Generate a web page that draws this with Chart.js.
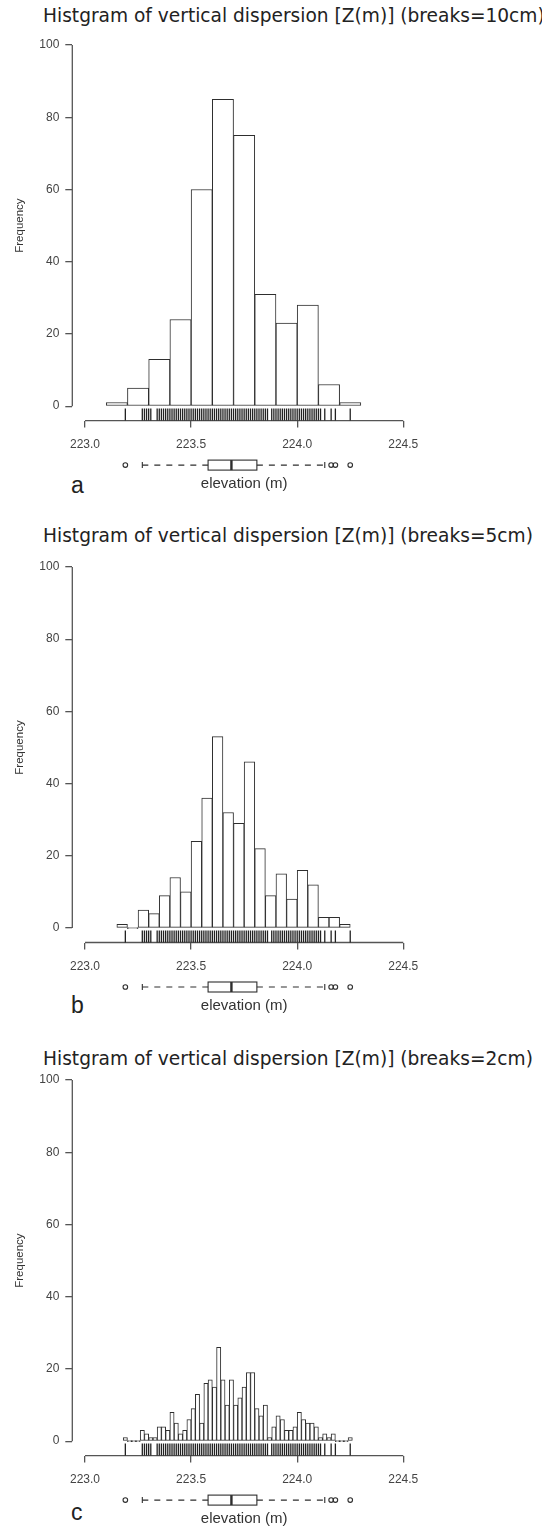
<!DOCTYPE html>
<html>
<head>
<meta charset="utf-8">
<script src="https://cdn.jsdelivr.net/npm/chart.js@4.4.1/dist/chart.umd.min.js"></script>
<style>
  body { margin: 0; background: #fff; width: 542px; height: 1526px; position: relative; overflow: hidden; }
  canvas { position: absolute; left: 0; }
  .title { position: absolute; left: 43px; font-family: "DejaVu Sans", sans-serif; font-size: 18.6px; color: #222; white-space: nowrap; }
  .tag { position: absolute; left: 71px; font-family: "Liberation Sans", Arial, sans-serif; font-size: 23px; color: #222; }
</style>
</head>
<body>
<div class="title" style="top:5px">Histgram of vertical dispersion [Z(m)] (breaks=10cm)</div>
<div class="title" style="top:525px">Histgram of vertical dispersion [Z(m)] (breaks=5cm)</div>
<div class="title" style="top:1048px">Histgram of vertical dispersion [Z(m)] (breaks=2cm)</div>
<div class="tag" style="top:472px">a</div>
<div class="tag" style="top:992px">b</div>
<div class="tag" style="top:1499px">c</div>
<canvas id="histA" width="542" height="510" style="top:0px"></canvas>
<canvas id="histB" width="542" height="510" style="top:510px"></canvas>
<canvas id="histC" width="542" height="506" style="top:1020px"></canvas>
<script>
const xTicks = [223.0, 223.5, 224.0, 224.5];
const yTicks = [0, 20, 40, 60, 80, 100];

// counts per bin, first break and bin width in metres
const startA = 223.10, widthA = 0.10;
const countsA = [1, 5, 13, 24, 60, 85, 75, 31, 23, 28, 6, 1];

const startB = 223.15, widthB = 0.05;
const countsB = [1, 0, 5, 4, 9, 14, 10, 24, 36, 53, 32, 29, 46, 22, 9, 15, 8, 16, 12, 3, 3, 1];

const startC = 223.18, widthC = 0.02;
const countsC = [1,
                 0, 0, 0, 3, 2,
                 1, 1, 4, 4, 3,
                 8, 5, 2, 3, 6,
                 9, 13, 5, 16, 17,
                 15, 26, 17, 10, 17,
                 10, 12, 15, 19, 19,
                 9, 7, 10, 1, 4,
                 7, 6, 3, 3, 4,
                 8, 6, 5, 5, 4,
                 1, 2, 1, 2, 0,
                 0, 0, 1];

// boxplot: lower whisker, Q1, median, Q3, upper whisker
const boxStats = [223.27, 223.58, 223.69, 223.81, 224.13];
const outliers = [223.19, 224.16, 224.18, 224.25];

// distinct observed elevations for the rug
const rugValues = [
  223.19, 223.27, 223.28, 223.29, 223.30, 223.31, 223.34, 223.35, 223.36, 223.37, 223.38,
  223.39, 223.40, 223.41, 223.42, 223.43, 223.44, 223.45, 223.46, 223.47, 223.48, 223.49,
  223.50, 223.51, 223.52, 223.53, 223.54, 223.55, 223.56, 223.57, 223.58, 223.59, 223.60,
  223.61, 223.62, 223.63, 223.64, 223.65, 223.66, 223.67, 223.68, 223.69, 223.70, 223.71,
  223.72, 223.73, 223.74, 223.75, 223.76, 223.77, 223.78, 223.79, 223.80, 223.81, 223.82,
  223.83, 223.84, 223.85, 223.86, 223.88, 223.89, 223.90, 223.91, 223.92, 223.93, 223.94,
  223.95, 223.96, 223.97, 223.98, 223.99, 224.00, 224.01, 224.02, 224.03, 224.04, 224.05,
  224.06, 224.07, 224.08, 224.09, 224.10, 224.11, 224.13, 224.16, 224.18, 224.25
];

const ink = '#2e2e2e';
const axisInk = '#555';
const sans = '"Liberation Sans", Arial, sans-serif';
const tickFont = { family: sans, size: 12 };

function binPoints(start, width, counts) {
  return counts.map((c, i) => ({ x: start + (i + 0.5) * width, y: c }));
}

// R-style decorations: axis lines over the tick range, rug and a horizontal boxplot
const rDecor = {
  id: 'rDecor',
  afterDraw(chart) {
    const { ctx, chartArea, scales } = chart;
    const x = scales.x, y = scales.y;
    ctx.save();
    ctx.strokeStyle = axisInk;
    ctx.lineWidth = 1.3;
    ctx.beginPath();
    ctx.moveTo(chartArea.left, y.getPixelForValue(yTicks[0]));
    ctx.lineTo(chartArea.left, y.getPixelForValue(yTicks[yTicks.length - 1]));
    ctx.moveTo(x.getPixelForValue(xTicks[0]), chartArea.bottom);
    ctx.lineTo(x.getPixelForValue(xTicks[xTicks.length - 1]), chartArea.bottom);
    ctx.stroke();

    // rug
    ctx.strokeStyle = '#222';
    ctx.lineWidth = 1.3;
    ctx.beginPath();
    rugValues.forEach(v => {
      const px = x.getPixelForValue(v);
      ctx.moveTo(px, chartArea.bottom);
      ctx.lineTo(px, chartArea.bottom - 12);
    });
    ctx.stroke();

    // boxplot
    const by = chartArea.bottom + 44.5;
    const [lo, q1, med, q3, hi] = boxStats.map(v => x.getPixelForValue(v));
    ctx.strokeStyle = ink;
    ctx.lineWidth = 1.1;
    ctx.strokeRect(q1, by - 5, q3 - q1, 10);
    ctx.lineWidth = 2.4;
    ctx.beginPath();
    ctx.moveTo(med, by - 5); ctx.lineTo(med, by + 5);
    ctx.stroke();
    ctx.lineWidth = 1.1;
    ctx.setLineDash([6, 6]);
    ctx.beginPath();
    ctx.moveTo(lo, by); ctx.lineTo(q1, by);
    ctx.moveTo(q3, by); ctx.lineTo(hi, by);
    ctx.stroke();
    ctx.setLineDash([]);
    ctx.beginPath();
    ctx.moveTo(lo, by - 3); ctx.lineTo(lo, by + 3);
    ctx.moveTo(hi, by - 3); ctx.lineTo(hi, by + 3);
    ctx.stroke();
    outliers.forEach(v => {
      ctx.beginPath();
      ctx.arc(x.getPixelForValue(v), by, 2.3, 0, Math.PI * 2);
      ctx.stroke();
    });
    ctx.restore();
  }
};

function makeHist(id, start, width, counts, padTop) {
  const canvas = document.getElementById(id);
  const plotH = 390;
  const xAxisH = 80;
  return new Chart(canvas, {
    type: 'bar',
    data: {
      datasets: [{
        data: binPoints(start, width, counts),
        backgroundColor: '#fff',
        borderColor: ink,
        borderWidth: 1,
        borderSkipped: false,
        barPercentage: 1,
        categoryPercentage: 1,
        minBarLength: 1
      }]
    },
    options: {
      responsive: false,
      animation: false,
      layout: { padding: { top: padTop, right: 126, bottom: canvas.height - padTop - plotH - xAxisH, left: 0 } },
      plugins: { legend: { display: false }, tooltip: { enabled: false } },
      scales: {
        x: {
          type: 'linear',
          min: 222.94,
          max: 224.56,
          offset: false,
          afterBuildTicks: s => { s.ticks = xTicks.map(v => ({ value: v })); },
          afterFit: s => { s.height = xAxisH; },
          grid: { offset: false, drawOnChartArea: false, drawTicks: true, tickLength: 7, color: axisInk, lineWidth: 1.3 },
          border: { display: false },
          ticks: { font: tickFont, color: '#444', padding: 10, maxRotation: 0, callback: v => v.toFixed(1) },
          title: { display: true, text: 'elevation (m)', font: { family: sans, size: 15 }, color: '#333', padding: { top: 0, bottom: 8 } }
        },
        y: {
          min: -4,
          max: 104,
          afterBuildTicks: s => { s.ticks = yTicks.map(v => ({ value: v })); },
          afterFit: s => { s.width = 72.3; },
          grid: { drawOnChartArea: false, drawTicks: true, tickLength: 7, color: axisInk, lineWidth: 1.3 },
          border: { display: false },
          ticks: { font: tickFont, color: '#444', padding: 6 },
          title: { display: true, text: 'Frequency', font: { family: sans, size: 11.5 }, color: '#333', padding: { top: 13, bottom: 0 } }
        }
      }
    },
    plugins: [rDecor]
  });
}

makeHist('histA', startA, widthA, countsA, 30.6);
makeHist('histB', startB, widthB, countsB, 42.5);
makeHist('histC', startC, widthC, countsC, 45.6);
</script>
</body>
</html>
